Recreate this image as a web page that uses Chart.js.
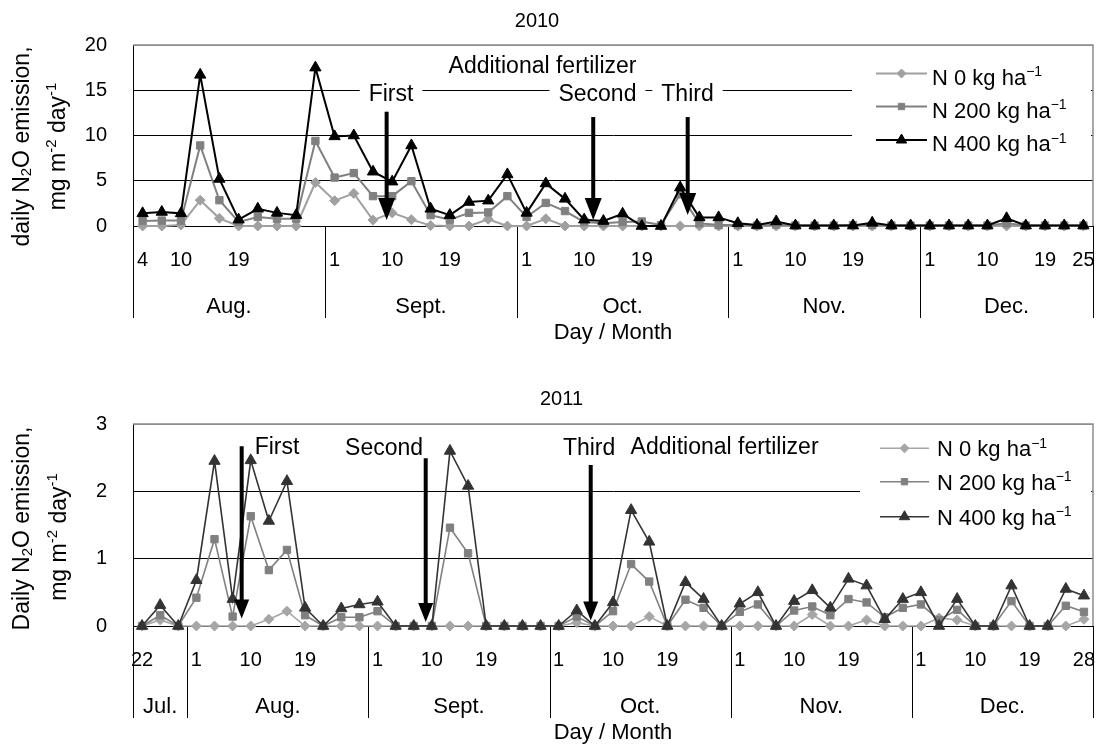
<!DOCTYPE html>
<html><head><meta charset="utf-8">
<script src="https://cdn.jsdelivr.net/npm/chart.js@4/dist/chart.umd.min.js"></script>
<style>
html,body{margin:0;padding:0;background:#fff;}
#wrap{position:relative;width:1101px;height:744px;background:#fff;}
.c{position:absolute;left:0;width:1101px;height:372px;}
canvas{display:block;}
</style></head><body>
<div id="wrap">
<div class="c" style="top:0"><canvas id="c1" width="1101" height="372"></canvas></div>
<div class="c" style="top:372px"><canvas id="c2" width="1101" height="372"></canvas></div>
</div>
<script>
const FAM = '"Liberation Sans", Arial, Helvetica, sans-serif';

// ---------- 2010 data ----------
const days2010 = ['4','','10','','','19','','','','',
                  '1','','','10','','','19','','','',
                  '1','','','10','','','19','','','','',
                  '1','','','10','','','19','','','',
                  '1','','','10','','','19','','25'];
const months2010 = ['Aug.','Sept.','Oct.','Nov.','Dec.'];
const monthSpan2010 = [10,10,11,10,9];
const n0_2010 = [0,0,0.1,2.85,0.85,0,0,0,0,4.8,
                 2.8,3.6,0.65,1.45,0.7,0.05,0,0,0.75,0,
                 0,0.8,0,0,0,0,0,0,0,0,
                 0,0,0,0,0,0,0,0,0,0,
                 0,0,0,0,0,0,0,0,0,0];
const n200_2010 = [0.55,0.6,0.6,8.9,2.85,0.45,1.0,0.8,0.8,9.4,
                   5.35,5.85,3.3,3.3,4.95,1.2,0.7,1.45,1.5,3.3,
                   1.0,2.55,1.65,0.45,0.3,0.45,0.5,0.1,3.5,0.3,
                   0.1,0.1,0.05,0.15,0.05,0.05,0.05,0.1,0.1,0.05,
                   0.05,0.05,0.05,0.05,0.05,0.3,0.05,0.05,0.05,0.05];
const n400_2010 = [1.4,1.55,1.4,16.7,5.2,0.7,1.9,1.45,1.2,17.5,
                   9.9,10.0,6.0,4.9,8.9,1.9,1.2,2.65,2.8,5.7,
                   1.45,4.7,3.0,0.7,0.55,1.35,0,0,4.25,0.95,
                   0.95,0.3,0.1,0.5,0.05,0.05,0.05,0.05,0.35,0.05,
                   0.05,0.05,0.05,0.05,0.05,0.85,0.05,0.05,0.05,0.05];
const yTicks2010 = {min:0, max:20, step:5};
const fertNames2010 = ['First','Second','Third'];
const fertPos2010 = [12.71, 23.47, 28.39];      // category position of applications
const fertArrowFrom2010 = [12.63, 12.04, 12.04];
const fertArrowTo2010 = [0.66, 0.66, 1.22];
const fertLabelPos2010 = [12.94, 23.69, 28.38];

// ---------- 2011 data ----------
const days2011 = ['22','','',
                  '1','','','10','','','19','','','',
                  '1','','','10','','','19','','','',
                  '1','','','10','','','19','','','',
                  '1','','','10','','','19','','','',
                  '1','','','10','','','19','','','28'];
const months2011 = ['Jul.','Aug.','Sept.','Oct.','Nov.','Dec.'];
const monthSpan2011 = [3,10,10,10,10,10];
const n0_2011 = [0,0.09,0,0,0,0,0,0.1,0.22,0,
                 0,0,0,0,0,0,0,0,0,0,
                 0,0,0,0,0.05,0,0,0,0.14,0,
                 0,0,0,0,0,0,0,0.17,0,0,
                 0.09,0,0,0,0.12,0.09,0,0,0,0,
                 0,0,0.1];
const n200_2011 = [0,0.16,0,0.42,1.29,0.14,1.63,0.83,1.13,0.16,
                   0,0.13,0.13,0.22,0,0,0,1.46,1.08,0,
                   0,0,0,0,0.14,0,0.22,0.92,0.66,0,
                   0.39,0.27,0,0.21,0.32,0,0.23,0.29,0.16,0.4,
                   0.35,0.13,0.27,0.32,0.09,0.24,0,0,0.37,0,
                   0,0.3,0.21];
const n400_2011 = [0,0.31,0,0.68,2.45,0.4,2.46,1.56,2.15,0.27,
                   0,0.26,0.32,0.36,0,0,0,2.6,2.08,0,
                   0,0,0,0,0.23,0,0.35,1.72,1.25,0,
                   0.65,0.4,0,0.33,0.5,0,0.37,0.53,0.27,0.7,
                   0.6,0.1,0.4,0.5,0,0.4,0,0,0.6,0,
                   0,0.55,0.45];
const yTicks2011 = {min:0, max:3, step:1};
const fertNames2011 = ['First','Second','Third'];
const fertPos2011 = [5.50, 15.66, 24.77];
const fertArrowFrom2011 = [2.67, 2.49, 2.39];
const fertArrowTo2011 = [0.11, 0.06, 0.08];
const fertLabelPos2011 = [7.45, 13.36, 24.68];

const seriesNames = ['N 0 kg ha', 'N 200 kg ha', 'N 400 kg ha'];

// ---------- helpers ----------
function setFont(ctx, size){ ctx.font = size + 'px ' + FAM; }
function segSize(s, size){ return (s.sub || s.sup) ? Math.round(size * 0.65) : size; }
function richWidth(ctx, segs, size){
  let w = 0;
  segs.forEach(s => { setFont(ctx, segSize(s, size)); w += ctx.measureText(s.t).width; });
  return w;
}
function drawRich(ctx, segs, x, y, size){
  let cx = x;
  segs.forEach(s => {
    setFont(ctx, segSize(s, size));
    const dy = s.sup ? -size * 0.38 : (s.sub ? size * 0.12 : 0);
    ctx.fillText(s.t, cx, y + dy);
    cx += ctx.measureText(s.t).width;
  });
}

function makeChart(canvasId, cfg){
  const plugin = {
    id: 'deco' + canvasId,
    beforeDatasetsDraw(chart){
      const {ctx, chartArea: a, scales: {x, y}} = chart;
      ctx.save();
      // top & right plot border
      ctx.strokeStyle = '#8c8c8c'; ctx.lineWidth = 1.5;
      ctx.beginPath(); ctx.moveTo(a.left, a.top); ctx.lineTo(a.right, a.top); ctx.lineTo(a.right, a.bottom); ctx.stroke();
      // legend background box
      ctx.fillStyle = '#fff';
      ctx.fillRect(cfg.legendBox[0], a.top + 1, cfg.legendBox[1] - cfg.legendBox[0], cfg.legendBox[2] - a.top - 1);
      // annotation labels
      ctx.textBaseline = 'alphabetic';
      cfg.labels.forEach(l => {
        setFont(ctx, cfg.annSize);
        const w = ctx.measureText(l.text).width;
        const px = x.getPixelForValue(l.pos), py = y.getPixelForValue(l.val);
        if (l.bg) { ctx.fillStyle = '#fff'; ctx.fillRect(px - w/2 - 9, py - 14, w + 18, 28); }
        ctx.fillStyle = '#000'; ctx.textAlign = 'center';
        ctx.fillText(l.text, px, py + cfg.annSize * 0.36);
      });
      // month separators
      const bounds = [0]; let acc = 0;
      cfg.spans.forEach(s => { acc += s; bounds.push(acc); });
      ctx.strokeStyle = '#000'; ctx.lineWidth = 1;
      const yb = a.bottom + cfg.sepDepth;
      bounds.forEach(b => {
        const px = Math.round(x.getPixelForValue(b - 0.5)) + 0.5;
        ctx.beginPath(); ctx.moveTo(px, a.bottom); ctx.lineTo(px, yb); ctx.stroke();
      });
      // month names
      ctx.fillStyle = '#000'; ctx.textAlign = 'center'; setFont(ctx, 22);
      cfg.months.forEach((m, k) => {
        const c = (x.getPixelForValue(bounds[k] - 0.5) + x.getPixelForValue(bounds[k+1] - 0.5)) / 2;
        ctx.fillText(m, c, a.bottom + cfg.monthDy);
      });
      // axis title
      setFont(ctx, 22);
      ctx.fillText('Day / Month', (a.left + a.right) / 2, a.bottom + cfg.axisTitleDy);
      // chart title
      setFont(ctx, 20);
      ctx.fillText(cfg.title, cfg.titleX, cfg.titleY);
      // y axis title (two lines, rotated)
      ctx.textAlign = 'left';
      cfg.yTitle.forEach((segs, k) => {
        const [cx, cy] = cfg.yTitlePos[k];
        const w = richWidth(ctx, segs, cfg.yTitleSize);
        ctx.save(); ctx.translate(cx, cy); ctx.rotate(-Math.PI / 2);
        drawRich(ctx, segs, -w / 2, 6, cfg.yTitleSize);
        ctx.restore();
      });
      ctx.restore();
    },
    afterDatasetsDraw(chart){
      const {ctx, scales: {x, y}} = chart;
      ctx.save();
      // arrows
      ctx.fillStyle = '#000'; ctx.strokeStyle = '#000';
      cfg.arrows.forEach(ar => {
        const px = x.getPixelForValue(ar.pos);
        const y0 = y.getPixelForValue(ar.from), y1 = y.getPixelForValue(ar.to);
        ctx.lineWidth = 4;
        ctx.beginPath(); ctx.moveTo(px, y0); ctx.lineTo(px, y1 - cfg.headLen + 2); ctx.stroke();
        ctx.beginPath(); ctx.moveTo(px - cfg.headW/2, y1 - cfg.headLen); ctx.lineTo(px + cfg.headW/2, y1 - cfg.headLen); ctx.lineTo(px, y1); ctx.closePath(); ctx.fill();
      });
      // legend
      chart.data.datasets.slice().sort((p, q) => p.legendIndex - q.legendIndex).forEach((ds, k) => {
        const yy = cfg.legendY[k];
        ctx.strokeStyle = ds.borderColor; ctx.lineWidth = cfg.legendLineW;
        ctx.beginPath(); ctx.moveTo(cfg.legendX[0], yy); ctx.lineTo(cfg.legendX[1], yy); ctx.stroke();
        ctx.fillStyle = ds.backgroundColor; ctx.strokeStyle = ds.borderColor; ctx.lineWidth = 1;
        Chart.helpers.drawPoint(ctx, {pointStyle: ds.pointStyle, radius: ds.legendRadius, rotation: 0, borderWidth: 1}, (cfg.legendX[0] + cfg.legendX[1]) / 2, yy);
        ctx.fillStyle = '#000'; ctx.textAlign = 'left'; ctx.textBaseline = 'alphabetic';
        drawRich(ctx, [{t: ds.label}, {t: '\u22121', sup: 1}], cfg.legendX[2], yy + cfg.legendTextDy, 22);
      });
      ctx.restore();
    }
  };

  const mk = (label, data, color, style, radius, lradius, order, li) => ({
    label, data, borderColor: color, backgroundColor: color,
    pointBackgroundColor: color, pointBorderColor: color, pointBorderWidth: 1,
    pointStyle: style, pointRadius: radius, pointHoverRadius: radius,
    borderWidth: cfg.lineW, tension: 0, clip: false, order, legendIndex: li, legendRadius: lradius
  });

  return new Chart(document.getElementById(canvasId), {
    type: 'line',
    data: {
      labels: cfg.days,
      datasets: [
        mk(seriesNames[0], cfg.s0, cfg.colors[0], 'rectRot', 5, 4.5, 2, 0),
        mk(seriesNames[1], cfg.s1, cfg.colors[1], 'rect', 5.2, 4.5, 1, 1),
        mk(seriesNames[2], cfg.s2, cfg.colors[2], 'triangle', 6.5, 6, 0, 2)
      ]
    },
    options: {
      responsive: false, animation: false, devicePixelRatio: 1,
      layout: {padding: {left: 0, right: 8, top: cfg.padTop, bottom: 0}},
      plugins: {legend: {display: false}, tooltip: {enabled: false}, title: {display: false}},
      scales: {
        x: {
          type: 'category', offset: true,
          grid: {display: false, drawTicks: false},
          border: {display: true, color: '#000', width: 1},
          ticks: {autoSkip: false, maxRotation: 0, minRotation: 0, padding: cfg.xTickPad, color: '#000', font: {family: FAM, size: 20}},
          afterFit(s){ s.height = cfg.xHeight; s.paddingLeft = 0; s.paddingRight = 0; }
        },
        y: {
          min: cfg.yt.min, max: cfg.yt.max,
          grid: {drawTicks: false, lineWidth: 1, color: c => (c.tick && c.tick.value === cfg.yt.max) ? '#8c8c8c' : '#000'},
          border: {display: true, color: '#000', width: 1},
          ticks: {stepSize: cfg.yt.step, padding: 26, color: '#000', font: {family: FAM, size: 20}},
          afterFit(s){ s.width = 133; s.paddingTop = 0; s.paddingBottom = 0; }
        }
      }
    },
    plugins: [plugin]
  });
}

makeChart('c1', {
  days: days2010, months: months2010, spans: monthSpan2010,
  s0: n0_2010, s1: n200_2010, s2: n400_2010,
  colors: ['#a0a0a0', '#808080', '#000000'], lineW: 2,
  yt: yTicks2010, padTop: 45, xHeight: 146, xTickPad: 22,
  sepDepth: 92, monthDy: 87, axisTitleDy: 113,
  title: '2010', titleX: 537, titleY: 27,
  yTitle: [[{t: 'daily N'}, {t: '2', sub: 1}, {t: 'O emission,'}], [{t: 'mg m'}, {t: '-2', sup: 1}, {t: ' day'}, {t: '-1', sup: 1}]],
  yTitlePos: [[22.5, 146.5], [59, 146.5]], yTitleSize: 23,
  annSize: 23,
  labels: [
    {text: 'Additional fertilizer', pos: 20.83, val: 17.8, bg: false},
    {text: fertNames2010[0], pos: fertLabelPos2010[0], val: 14.75, bg: true},
    {text: fertNames2010[1], pos: fertLabelPos2010[1], val: 14.75, bg: true},
    {text: fertNames2010[2], pos: fertLabelPos2010[2], val: 14.75, bg: true}
  ],
  arrows: fertPos2010.map((p, k) => ({pos: p, from: fertArrowFrom2010[k], to: fertArrowTo2010[k]})),
  headW: 17, headLen: 22,
  legendBox: [852, 1091, 162], legendY: [73.5, 106.5, 140], legendX: [876, 927, 932], legendTextDy: 11, legendLineW: 2
});

makeChart('c2', {
  days: days2011, months: months2011, spans: monthSpan2011,
  s0: n0_2011, s1: n200_2011, s2: n400_2011,
  colors: ['#a6a6a6', '#808080', '#333333'], lineW: 1.6,
  yt: yTicks2011, padTop: 52, xHeight: 118, xTickPad: 22,
  sepDepth: 92, monthDy: 87, axisTitleDy: 113,
  title: '2011', titleX: 561.5, titleY: 33,
  yTitle: [[{t: 'Daily N'}, {t: '2', sub: 1}, {t: 'O emission,'}], [{t: 'mg m'}, {t: '-2', sup: 1}, {t: ' day'}, {t: '-1', sup: 1}]],
  yTitlePos: [[23, 156.5], [60, 165]], yTitleSize: 23,
  annSize: 23,
  labels: [
    {text: fertNames2011[0], pos: fertLabelPos2011[0], val: 2.68, bg: false},
    {text: fertNames2011[1], pos: fertLabelPos2011[1], val: 2.66, bg: false},
    {text: fertNames2011[2], pos: fertLabelPos2011[2], val: 2.66, bg: false},
    {text: 'Additional fertilizer', pos: 32.16, val: 2.68, bg: false}
  ],
  arrows: fertPos2011.map((p, k) => ({pos: p, from: fertArrowFrom2011[k], to: fertArrowTo2011[k]})),
  headW: 15, headLen: 19,
  legendBox: [860, 1091, 158], legendY: [76.3, 109.7, 144.7], legendX: [880, 929, 937], legendTextDy: 8, legendLineW: 1.6
});
</script>
</body></html>
